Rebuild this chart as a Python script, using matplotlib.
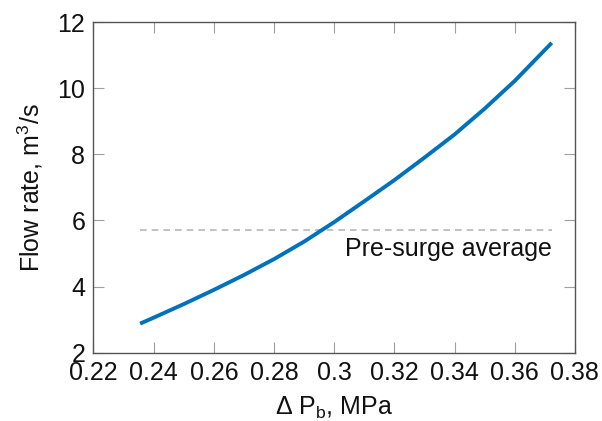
import matplotlib
matplotlib.use("Agg")
import matplotlib.pyplot as plt

plt.rcParams['font.family'] = ['Liberation Sans', 'DejaVu Sans']
plt.rcParams['mathtext.fontset'] = 'custom'
plt.rcParams['mathtext.rm'] = 'Liberation Sans'
plt.rcParams['mathtext.it'] = 'Liberation Sans'

# Data
dp_b = [0.2355, 0.24, 0.25, 0.26, 0.27, 0.28, 0.29, 0.30, 0.31, 0.32,
        0.33, 0.34, 0.35, 0.36, 0.3723]
flow = [2.88, 3.06, 3.47, 3.90, 4.35, 4.83, 5.36, 5.95, 6.58, 7.22,
        7.90, 8.60, 9.38, 10.22, 11.37]
pre_surge_avg = 5.71
x_ticks = [0.22, 0.24, 0.26, 0.28, 0.30, 0.32, 0.34, 0.36, 0.38]
x_ticklabels = ["0.22", "0.24", "0.26", "0.28", "0.3", "0.32", "0.34", "0.36", "0.38"]
y_ticks = [2, 4, 6, 8, 10, 12]

fig = plt.figure(figsize=(6.02, 4.21), dpi=100)
ax = fig.add_axes([0.1553, 0.1622, 0.7997, 0.7855])

ax.plot([dp_b[0], dp_b[-1]], [pre_surge_avg, pre_surge_avg],
        color='#b8b8b8', lw=1.2, ls=(0, (4, 3)))
ax.plot(dp_b, flow, color='#0072BD', lw=2.8, solid_capstyle='butt')
ax.text(dp_b[-1], pre_surge_avg - 0.2, "Pre-surge average",
        ha='right', va='top', fontsize=18, color='#111111')

ax.set_xlim(0.22, 0.38)
ax.set_ylim(2, 12)
ax.set_xticks(x_ticks)
ax.set_xticklabels(x_ticklabels)
ax.set_yticks(y_ticks)

ax.tick_params(direction='in', length=8, width=0.8, color='#a0a0a0',
               labelsize=18, pad=6, top=True, right=True, labelcolor='#111111')
for sp in ax.spines.values():
    sp.set_color('#555555')
    sp.set_linewidth(1.0)

ax.set_xlabel(r"$\Delta$ P$_\mathrm{b}$, MPa", fontsize=18, labelpad=7, color='#111111')
ax.set_ylabel(r"Flow rate, m$^3$/s", fontsize=18, labelpad=9, color='#111111')

fig.savefig("out.png", dpi=100)
